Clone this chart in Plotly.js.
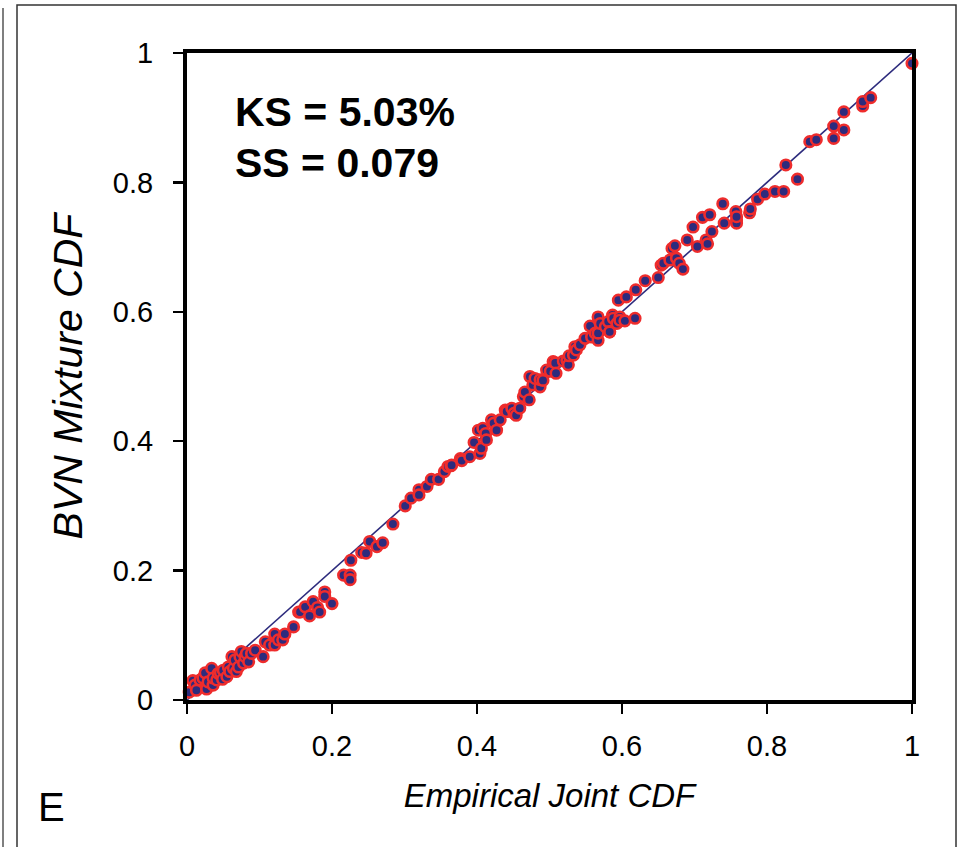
<!DOCTYPE html>
<html>
<head>
<meta charset="utf-8">
<script src="https://cdn.plot.ly/plotly-3.0.1.min.js"></script>
<style>html,body{margin:0;padding:0;background:#fff;}#chart{width:963px;height:847px;}</style>
</head>
<body>
<div id="chart"></div>
<script>
// Empirical joint CDF (x) vs BVN mixture CDF (y)
const empX = [
0.003,0.008,0.011,0.013,0.018,0.022,0.025,0.027,0.029,0.034,0.036,0.036,0.041,0.043,0.046,0.049,0.050,0.055,0.057,0.059,
0.062,0.064,0.066,0.068,0.071,0.073,0.075,0.078,0.080,0.082,0.085,0.089,0.094,0.105,0.108,0.114,0.121,0.121,0.126,0.132,
0.135,0.147,0.154,
0.156,0.163,0.169,0.174,0.180,0.183,0.190,0.190,0.200,0.216,0.225,0.225,0.226,0.241,0.247,0.252,0.262,0.270,0.284,
0.301,0.309,0.320,0.320,0.331,0.337,0.347,0.355,0.360,0.364,
0.365,0.377,0.379,0.390,0.396,0.402,0.404,0.406,0.408,0.412,0.413,0.420,0.423,0.427,0.432,0.439,0.441,0.448,0.451,0.454,
0.459,0.464,0.466,0.472,0.473,0.477,0.480,0.487,0.487,0.491,0.496,0.501,0.505,0.508,0.509,0.519,0.524,0.526,0.527,0.533,
0.535,0.537,0.542,0.549,0.556,0.558,0.563,0.567,0.567,0.567,0.570,0.577,0.581,0.583,0.583,0.587,0.588,0.593,0.597,0.597,
0.604,0.618,
0.595,0.606,0.619,0.632,0.650,0.654,0.657,0.666,0.669,0.673,0.675,0.679,0.684,0.690,0.698,0.704,0.711,0.716,0.718,0.721,
0.724,0.739,0.741,0.757,0.758,0.758,0.758,0.776,0.777,0.787,0.797,0.811,0.823,0.826,0.842,0.859,0.868,0.892,0.892,0.906,
0.906,0.932,0.932,0.943,1.000
];
const bvnY = [
0.012,0.030,0.023,0.015,0.031,0.034,0.042,0.017,0.028,0.049,0.023,0.034,0.031,0.041,0.042,0.032,0.046,0.036,0.051,0.044,
0.067,0.049,0.062,0.044,0.051,0.067,0.075,0.057,0.067,0.072,0.059,0.072,0.077,0.067,0.090,0.085,0.102,0.085,0.093,0.093,
0.102,0.113,0.136,
0.136,0.144,0.130,0.152,0.143,0.136,0.167,0.160,0.149,0.193,0.193,0.186,0.216,0.228,0.227,0.245,0.237,0.243,0.272,
0.300,0.312,0.325,0.317,0.330,0.341,0.341,0.353,0.361,0.362,
0.363,0.373,0.370,0.376,0.398,0.417,0.381,0.389,0.420,0.412,0.402,0.433,0.428,0.417,0.433,0.448,0.446,0.451,0.443,0.440,
0.451,0.469,0.476,0.464,0.500,0.487,0.497,0.484,0.495,0.494,0.510,0.508,0.523,0.521,0.505,0.524,0.525,0.518,0.532,0.533,
0.546,0.541,0.549,0.559,0.578,0.561,0.567,0.556,0.567,0.592,0.582,0.577,0.585,0.569,0.569,0.595,0.590,0.582,0.592,0.587,
0.586,0.590,
0.618,0.623,0.634,0.648,0.653,0.672,0.675,0.680,0.698,0.702,0.683,0.675,0.666,0.711,0.731,0.701,0.746,0.711,0.705,0.750,
0.724,0.767,0.737,0.755,0.742,0.737,0.747,0.753,0.759,0.774,0.782,0.786,0.786,0.827,0.805,0.863,0.866,0.868,0.887,0.881,
0.909,0.918,0.925,0.931,0.984
];
// 1:1 reference line
const lineX = [0, 1];
const lineY = [0, 1];
const tickVals = [0, 0.2, 0.4, 0.6, 0.8, 1];
const tickText = ['0', '0.2', '0.4', '0.6', '0.8', '1'];
const xTitle = 'Empirical Joint CDF';
const yTitle = 'BVN Mixture CDF';
const statLines = ['KS = 5.03%', 'SS = 0.079'];
const panelLabel = 'E';

const W = 963, H = 847;
const M = {l: 187, r: 51, t: 53, b: 147};
const pw = W - M.l - M.r, ph = H - M.t - M.b;
const px = p => (p - M.l) / pw;
const py = p => (H - M.b - p) / ph;

const FONT = 'Liberation Sans, Arial, Helvetica, sans-serif';
const NAVY = '#2d2b7d';
const RED = '#ee2c2c';

const traces = [
  {x: lineX, y: lineY, type: 'scatter', mode: 'lines',
   line: {color: NAVY, width: 1.6}, hoverinfo: 'skip', showlegend: false, cliponaxis: false},
  {x: empX, y: bvnY, type: 'scatter', mode: 'markers',
   marker: {size: 10.5, color: NAVY, line: {color: RED, width: 2.6}},
   showlegend: false, cliponaxis: false}
];

const axisCommon = {
  range: [0, 1], tickvals: tickVals, ticktext: tickText,
  showgrid: false, zeroline: false, showline: true, mirror: true,
  linecolor: '#000', linewidth: 4, ticks: 'outside', ticklen: 10, tickwidth: 2.5, tickcolor: '#000',
  tickfont: {family: FONT, size: 29, color: '#000'}, fixedrange: true
};

const layout = {
  width: W, height: H, margin: M, paper_bgcolor: '#fff', plot_bgcolor: '#fff',
  showlegend: false,
  xaxis: Object.assign({}, axisCommon, {
    ticklabelstandoff: 7,
    title: {text: '<i>' + xTitle + '</i>', font: {family: FONT, size: 33, color: '#000'}, standoff: 24}
  }),
  yaxis: Object.assign({}, axisCommon, {
    ticklabelstandoff: 14,
    title: {text: '<i>' + yTitle + '</i>', font: {family: FONT, size: 41, color: '#000'}, standoff: 19}
  }),
  annotations: [
    {xref: 'paper', yref: 'paper', x: px(233), y: py(112), xanchor: 'left', yanchor: 'middle',
     text: '<b>' + statLines[0] + '</b>', showarrow: false, font: {family: FONT, size: 41, color: '#000'}},
    {xref: 'paper', yref: 'paper', x: px(233), y: py(163), xanchor: 'left', yanchor: 'middle',
     text: '<b>' + statLines[1] + '</b>', showarrow: false, font: {family: FONT, size: 41, color: '#000'}},
    {xref: 'paper', yref: 'paper', x: px(51), y: py(807), xanchor: 'center', yanchor: 'middle',
     text: panelLabel, showarrow: false, font: {family: FONT, size: 40, color: '#000'}}
  ],
  shapes: [
    {type: 'path', xref: 'paper', yref: 'paper',
     path: `M ${px(17)} ${py(860)} L ${px(17)} ${py(5)} L ${px(956)} ${py(5)} L ${px(956)} ${py(860)}`,
     line: {color: '#333', width: 1.5}},
    {type: 'line', xref: 'paper', yref: 'paper', x0: px(3), x1: px(3), y0: py(8), y1: py(860),
     line: {color: '#555', width: 1.5}}
  ]
};

Plotly.newPlot('chart', traces, layout, {displayModeBar: false, staticPlot: true});
</script>
</body>
</html>
